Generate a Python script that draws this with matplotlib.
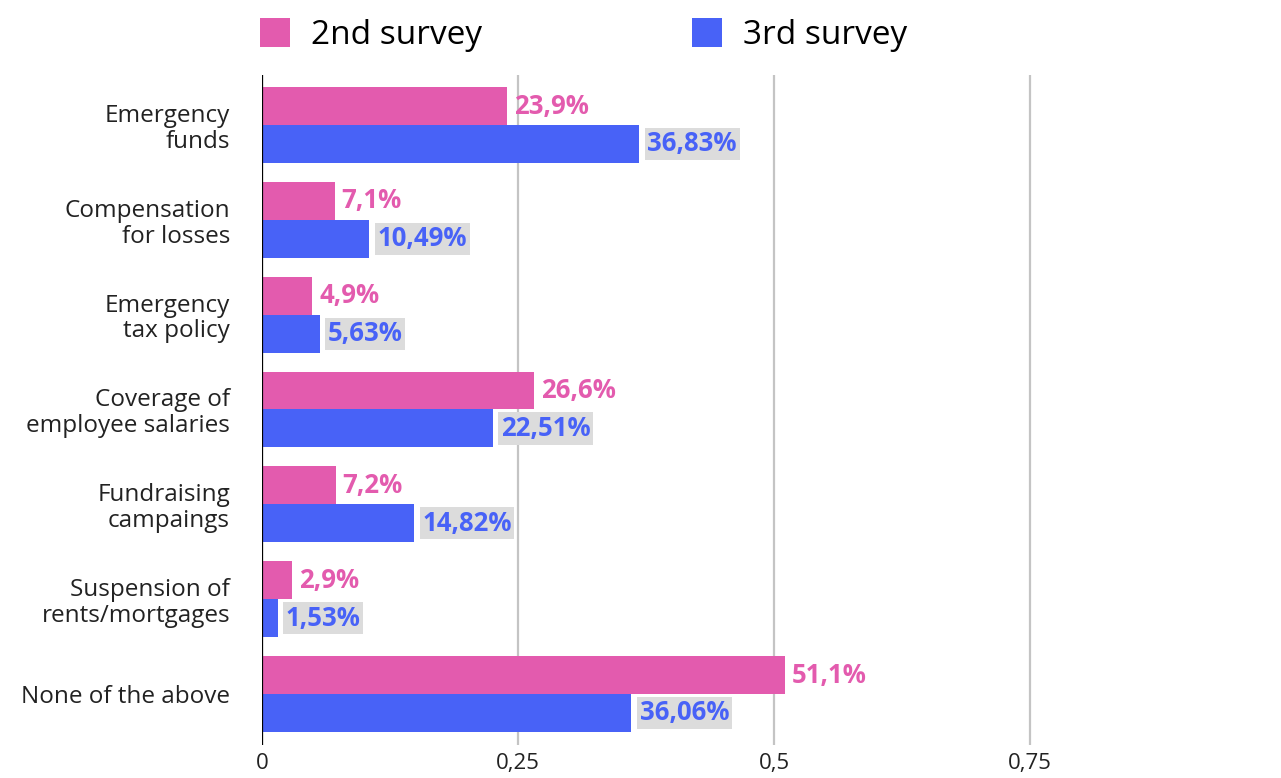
import matplotlib
matplotlib.use("Agg")
import matplotlib.pyplot as plt
from matplotlib.patches import Patch
import numpy as np

categories = ["Emergency\nfunds", "Compensation\nfor losses", "Emergency\ntax policy",
              "Coverage of\nemployee salaries", "Fundraising\ncampaings",
              "Suspension of\nrents/mortgages", "None of the above"]
survey2 = [0.239, 0.071, 0.049, 0.266, 0.072, 0.029, 0.511]
survey3 = [0.3683, 0.1049, 0.0563, 0.2251, 0.1482, 0.0153, 0.3606]
labels2 = ["23,9%", "7,1%", "4,9%", "26,6%", "7,2%", "2,9%", "51,1%"]
labels3 = ["36,83%", "10,49%", "5,63%", "22,51%", "14,82%", "1,53%", "36,06%"]
xticks = [0, 0.25, 0.5, 0.75]
xticklabels = ["0", "0,25", "0,5", "0,75"]
series_names = ["2nd survey", "3rd survey"]

PINK = "#E35BAE"
BLUE = "#4862F7"
FONT = "Open Sans"

plt.rcParams['font.family'] = [FONT, 'DejaVu Sans']

W, H = 1281, 778
fig = plt.figure(figsize=(W / 100, H / 100), dpi=100)
ax = fig.add_axes([262 / W, 1 - 745 / H, 1 - 262 / W, (745 - 75) / H])

y = np.arange(len(categories))
h = 0.4
ax.barh(y - h / 2, survey2, height=h, color=PINK, zorder=3)
ax.barh(y + h / 2, survey3, height=h, color=BLUE, zorder=3)

for i in range(len(categories)):
    ax.annotate(labels2[i], (survey2[i], y[i] - h / 2), xytext=(5, 0),
                textcoords="offset points", va="center", ha="left",
                fontsize=18.5, fontweight="bold", color=PINK, zorder=4)
    ax.annotate(labels3[i], (survey3[i], y[i] + h / 2), xytext=(6, 0),
                textcoords="offset points", va="center", ha="left",
                fontsize=18.5, fontweight="bold", color=BLUE, zorder=4,
                bbox=dict(boxstyle="square,pad=0.1", facecolor="#DCDCDC", edgecolor="none"))

ax.set_xlim(0, (W - 262) / 1024)
ax.set_ylim(6.538, -0.527)
ax.set_xticks(xticks)
ax.set_xticklabels(xticklabels, fontsize=16, color="#222222")
ax.set_yticks(y)
ax.set_yticklabels(categories, fontsize=17.5, color="#222222", ha="right",
                   multialignment="right", linespacing=1.1)
ax.tick_params(axis="both", length=0)
ax.tick_params(axis="y", pad=23)
ax.tick_params(axis="x", pad=6)
for s in ax.spines.values():
    s.set_visible(False)
ax.xaxis.grid(True, color="#C4C4C4", linewidth=1.6, zorder=0)
ax.set_axisbelow(True)
ax.axvline(0, color="black", linewidth=1.6, zorder=5)

handles = [Patch(facecolor=PINK, edgecolor="none"), Patch(facecolor=BLUE, edgecolor="none")]
fig.legend(handles, series_names, loc="center left", bbox_to_anchor=(260 / W, 1 - 35 / H),
           ncol=2, frameon=False, fontsize=24, handlelength=0.9, handleheight=0.95,
           handletextpad=0.63, columnspacing=6.3, borderaxespad=0, borderpad=0)

fig.savefig("out.png", dpi=100)
